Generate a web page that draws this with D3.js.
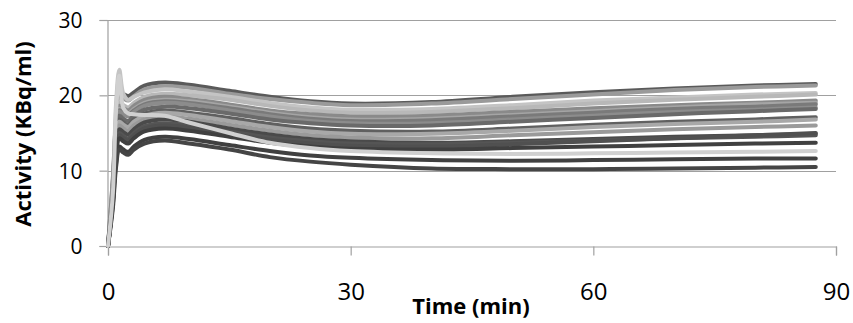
<!DOCTYPE html>
<html>
<head>
<meta charset="utf-8">
<script src="https://cdn.jsdelivr.net/npm/d3@7"></script>
<style>
  html, body { margin: 0; padding: 0; background: #fff; }
  svg { display: block; }
  .tick text { font-family: "Open Sans", "Liberation Sans", sans-serif; }
</style>
</head>
<body>
<svg id="chart" width="853" height="323"></svg>
<script>
// Sample times (min) shared by every time-activity curve
const times = [0, 0.6, 1.0, 1.4, 1.9, 2.5, 3.2, 4.5, 7, 10, 15, 20, 25, 30, 40, 50, 60, 70, 80, 87.5];

// Activity (KBq/ml) per region, one array per curve
const curve01 = [0, 9.0, 17.0, 20.5, 20.2, 19.9, 20.4, 21.3, 21.7, 21.4, 20.6, 19.8, 19.2, 18.9, 19.1, 19.8, 20.4, 20.9, 21.3, 21.5];
const curve02 = [0, 8.5, 16.5, 20.0, 19.6, 19.3, 19.9, 20.8, 21.2, 21.0, 20.2, 19.5, 19.0, 18.7, 18.9, 19.5, 20.1, 20.7, 21.1, 21.3];
const curve03 = [0, 7.0, 19.0, 23.4, 20.2, 19.4, 19.8, 20.4, 20.8, 20.5, 19.8, 19.0, 18.4, 18.1, 18.2, 18.7, 19.3, 19.7, 20.1, 20.3];
const curve04 = [0, 8.0, 16.0, 19.0, 18.7, 18.4, 19.0, 19.8, 20.2, 20.0, 19.4, 18.6, 18.0, 17.7, 17.8, 18.3, 18.9, 19.4, 19.8, 20.1];
const curve05 = [0, 8.0, 15.5, 18.6, 18.3, 18.0, 18.6, 19.4, 19.8, 19.5, 18.8, 18.0, 17.5, 17.2, 17.3, 17.8, 18.3, 18.7, 19.0, 19.3];
const curve06 = [0, 7.5, 15.0, 18.2, 17.9, 17.6, 18.2, 19.0, 19.4, 19.2, 18.5, 17.7, 17.1, 16.8, 16.9, 17.4, 17.9, 18.4, 18.8, 19.0];
const curve07 = [0, 7.5, 15.0, 18.0, 17.7, 17.4, 18.0, 18.8, 19.2, 19.0, 18.3, 17.5, 16.9, 16.6, 16.7, 17.2, 17.7, 18.2, 18.5, 18.8];
const curve08 = [0, 7.5, 15.0, 17.8, 17.5, 17.2, 17.8, 18.6, 19.0, 18.8, 18.0, 17.2, 16.6, 16.3, 16.3, 16.8, 17.3, 17.8, 18.1, 18.4];
const curve09 = [0, 7.0, 14.5, 17.3, 16.9, 16.6, 17.3, 18.1, 18.5, 18.3, 17.6, 16.8, 16.3, 16.0, 16.0, 16.5, 17.0, 17.5, 17.9, 18.2];
const curve10 = [0, 7.0, 14.0, 16.8, 16.4, 16.1, 16.8, 17.6, 18.0, 17.7, 17.0, 16.2, 15.6, 15.3, 15.2, 15.6, 16.1, 16.5, 16.8, 17.1];
const curve11 = [0, 7.0, 14.0, 16.5, 16.1, 15.8, 16.5, 17.3, 17.7, 17.4, 16.6, 15.8, 15.2, 14.9, 14.9, 15.3, 15.8, 16.2, 16.5, 16.8];
const curve12 = [0, 6.5, 13.5, 16.0, 15.6, 15.3, 16.0, 16.8, 17.2, 16.9, 16.1, 15.3, 14.7, 14.4, 14.3, 14.7, 15.1, 15.5, 15.8, 16.0];
const curve13 = [0, 6.5, 13.0, 15.5, 15.1, 14.8, 15.5, 16.4, 16.8, 16.5, 15.6, 14.8, 14.2, 13.9, 13.7, 13.9, 14.2, 14.5, 14.7, 14.9];
const curve14 = [0, 6.0, 12.5, 15.0, 14.6, 14.3, 15.0, 15.9, 16.3, 16.0, 15.2, 14.4, 13.9, 13.6, 13.5, 13.7, 14.0, 14.3, 14.5, 14.7];
const curve15 = [0, 6.0, 12.0, 14.7, 14.3, 14.0, 14.7, 15.6, 16.0, 15.7, 14.9, 14.1, 13.6, 13.3, 13.2, 13.5, 13.9, 14.3, 14.7, 15.0];
const curve16 = [0, 6.0, 12.0, 14.3, 13.9, 13.6, 14.3, 15.2, 15.6, 15.3, 14.5, 13.7, 13.2, 12.9, 12.8, 13.0, 13.2, 13.4, 13.6, 13.7];
const curve17 = [0, 5.5, 11.0, 13.2, 12.8, 12.5, 13.2, 14.1, 14.5, 14.2, 13.4, 12.6, 12.0, 11.7, 11.4, 11.3, 11.4, 11.5, 11.6, 11.6];
const curve18 = [0, 5.0, 10.5, 12.8, 12.4, 12.1, 12.8, 13.6, 14.0, 13.6, 12.8, 11.8, 11.2, 10.8, 10.3, 10.2, 10.2, 10.3, 10.4, 10.5];
const curve19 = [0, 7.0, 18.0, 22.6, 18.3, 17.6, 17.5, 17.4, 17.3, 16.4, 15.0, 13.7, 13.0, 12.6, 12.3, 12.2, 12.3, 12.4, 12.5, 12.6];

// Stroke grey for each curve, in drawing order
const curveGreys = ["#5a5a5a", "#9a9a9a", "#c4c4c4", "#b8b8b8", "#8a8a8a", "#a5a5a5", "#7a7a7a", "#8c8c8c", "#6a6a6a",
                    "#606060", "#a8a8a8", "#9a9a9a", "#4a4a4a", "#555555", "#505050", "#404040", "#404040", "#454545", "#d0d0d0"];
const curves = [curve01, curve02, curve03, curve04, curve05, curve06, curve07, curve08, curve09, curve10,
                curve11, curve12, curve13, curve14, curve15, curve16, curve17, curve18, curve19];

const xTicks = [0, 30, 60, 90];
const yTicks = [0, 10, 20, 30];
const xTitle = "Time (min)";
const yTitle = "Activity (KBq/ml)";

const svg = d3.select("#chart");
const x = d3.scaleLinear().domain([0, 90]).range([108, 836]);
const y = d3.scaleLinear().domain([0, 30]).range([246, 20]);
const axisGrey = "#a0a0a0";

// horizontal gridlines
svg.append("g")
  .selectAll("line")
  .data(yTicks.filter(d => d > 0))
  .join("line")
  .attr("x1", x(0)).attr("x2", x(90))
  .attr("y1", d => Math.round(y(d)) + 0.5).attr("y2", d => Math.round(y(d)) + 0.5)
  .attr("stroke", axisGrey).attr("stroke-width", 1.2);

// y axis
const gy = svg.append("g")
  .attr("transform", `translate(${Math.round(x(0)) - 0.5},0)`)
  .call(d3.axisLeft(y).tickValues(yTicks).tickSize(8).tickPadding(17).tickFormat(d3.format("d")));
gy.select(".domain").attr("stroke", axisGrey).attr("stroke-width", 1.2);
gy.selectAll(".tick line").attr("stroke", axisGrey).attr("stroke-width", 1.2);
gy.selectAll(".tick text").attr("font-size", 21).attr("fill", "#000").attr("dy", "0.36em");

// x axis
const gx = svg.append("g")
  .attr("transform", `translate(0,${Math.round(y(0)) + 0.5})`)
  .call(d3.axisBottom(x).tickValues(xTicks).tickSize(9).tickPadding(27).tickFormat(d3.format("d")));
gx.select(".domain").attr("stroke", axisGrey).attr("stroke-width", 1.2);
gx.selectAll(".tick line").attr("stroke", axisGrey).attr("stroke-width", 1.2);
gx.selectAll(".tick text").attr("font-size", 24).attr("fill", "#000");

// time-activity curves
const line = d3.line()
  .x((d, i) => x(times[i]))
  .y(d => y(d))
  .curve(d3.curveCatmullRom.alpha(0.5));

svg.append("g")
  .selectAll("path")
  .data(curves)
  .join("path")
  .attr("d", d => line(d))
  .attr("fill", "none")
  .attr("stroke", (d, i) => curveGreys[i])
  .attr("stroke-width", 4)
  .attr("stroke-linecap", "round")
  .attr("stroke-linejoin", "round");

// axis titles
svg.append("text")
  .attr("x", 471).attr("y", 314)
  .attr("text-anchor", "middle")
  .attr("font-family", "'Open Sans', 'Liberation Sans', sans-serif")
  .attr("font-weight", "bold").attr("font-size", 22)
  .text(xTitle);

svg.append("text")
  .attr("transform", "translate(31,134) rotate(-90)")
  .attr("text-anchor", "middle")
  .attr("font-family", "'Open Sans', 'Liberation Sans', sans-serif")
  .attr("font-weight", "bold").attr("font-size", 22)
  .text(yTitle);
</script>
</body>
</html>
